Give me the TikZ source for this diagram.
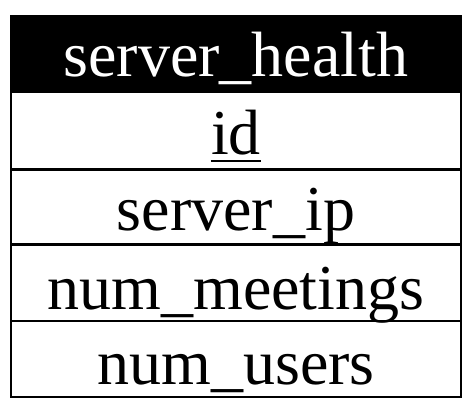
\documentclass[tikz,border=0pt]{standalone}
\usepackage{fontspec}
\setmainfont{Liberation Serif}
\begin{document}
\begin{tikzpicture}[x=1pt,y=1pt,
  cell/.style={anchor=base,inner sep=0pt,font=\fontsize{64}{70}\selectfont},
  rule/.style={line width=2.8pt}]
\useasboundingbox (0,0) rectangle (469,414);
% header
\fill[black] (10,414-15) rectangle (462,414-93);
\node[cell,text=white] (title) at (236,414-77) {server\_health};
% rows
\node[cell] (id) at (236,414-155) {id};
\node[cell] (ip) at (236,414-231) {server\_ip};
\node[cell] (meet) at (236,414-310) {num\_meetings};
\node[cell] (users) at (236,414-385) {num\_users};
\draw[line width=2.2pt] ([yshift=-6pt]id.base west) -- ([yshift=-6pt]id.base east);
% borders
\draw[rule] (11,414-93) -- (11,414-397) -- (461,414-397) -- (461,414-93);
\draw[rule] (11,414-169.5) -- (461,414-169.5);
\draw[rule] (11,414-244.5) -- (461,414-244.5);
\draw[rule] (11,414-321) -- (461,414-321);
\end{tikzpicture}
\end{document}
